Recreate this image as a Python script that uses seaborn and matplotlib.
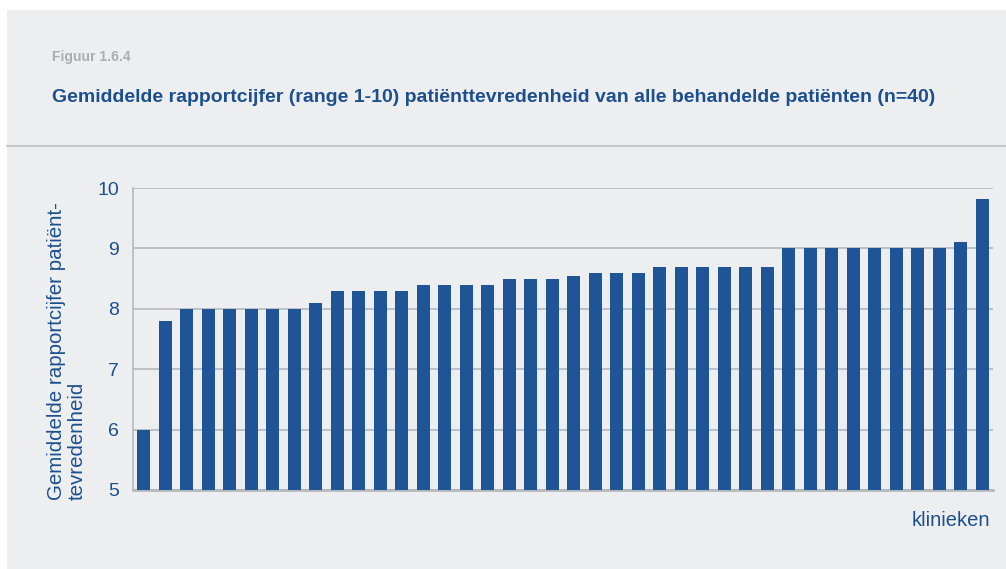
import numpy as np
import pandas as pd
import matplotlib
matplotlib.use("Agg")
import matplotlib.pyplot as plt
import seaborn as sns

# data (sorted average satisfaction per clinic)
scores = [
    6.0, 7.8,
    8.0, 8.0, 8.0, 8.0, 8.0, 8.0,
    8.1,
    8.3, 8.3, 8.3, 8.3,
    8.39, 8.4, 8.4, 8.4,
    8.5, 8.5, 8.5, 8.54,
    8.6, 8.6, 8.6,
    8.7, 8.7, 8.7, 8.7, 8.7, 8.7,
    9.0, 9.0, 9.0, 9.0, 9.0, 9.0, 9.0, 9.0,
    9.1, 9.82,
]
clinics = [f"k{i + 1}" for i in range(len(scores))]
y_ticks = [5, 6, 7, 8, 9, 10]

fig_label = "Figuur 1.6.4"
title = "Gemiddelde rapportcijfer (range 1-10) patiënttevredenheid van alle behandelde patiënten (n=40)"
y_label = "Gemiddelde rapportcijfer patiënt-\ntevredenheid"
x_label = "klinieken"

BG = "#edeef0"
BLUE = "#1f5597"
TEXT_BLUE = "#1d4f8f"
GRID = "#b4b8bd"

sns.set_theme(style="white")
plt.rcParams["font.family"] = ["Liberation Sans", "DejaVu Sans"]

df = pd.DataFrame({"kliniek": clinics, "cijfer": scores})

fig = plt.figure(figsize=(10.06, 5.69), dpi=100)
fig.patch.set_facecolor("white")

# grey panel behind everything
panel = plt.Rectangle((7 / 1006, 0), 1 - 7 / 1006, 1 - 10 / 569,
                      transform=fig.transFigure, facecolor=BG,
                      edgecolor="none", zorder=-10)
fig.patches.append(panel)
fig.add_artist(plt.Line2D([7 / 1006, 1], [1 - 146 / 569] * 2,
                          transform=fig.transFigure, color="#c3c7cb", lw=1.5))

fig.text(52 / 1006, 1 - 57 / 569, fig_label, color="#a9adb2",
         fontsize=10, fontweight="bold", va="center", ha="left")
fig.text(52 / 1006, 1 - 97 / 569, title, color=TEXT_BLUE,
         fontsize=14, fontweight="bold", va="center", ha="left")

ax = fig.add_axes([133 / 1006, 1 - 490 / 569, (993 - 133) / 1006, (490 - 188) / 569])
ax.set_facecolor(BG)

sns.barplot(data=df, x="kliniek", y="cijfer", color=BLUE, width=0.6,
            saturation=1, linewidth=0, ax=ax, zorder=3)

ax.set_ylim(5, 10)
ax.set_xlim(-0.5, len(scores) - 0.5)
ax.set_yticks(y_ticks)
ax.set_yticklabels([str(t) for t in y_ticks])
ax.set_xticks([])
ax.set_xlabel("")
ax.set_ylabel("")
ax.grid(axis="y", color=GRID, lw=1.2, zorder=0)
ax.tick_params(axis="y", length=0, pad=10, labelsize=14, labelcolor=TEXT_BLUE)

for side in ["top", "right"]:
    ax.spines[side].set_visible(False)
ax.spines["left"].set_color(GRID)
ax.spines["left"].set_linewidth(1.2)
ax.spines["bottom"].set_color(GRID)
ax.spines["bottom"].set_linewidth(2)

fig.text(67 / 1006, 1 - 500 / 569, y_label, rotation=90, color=TEXT_BLUE,
         fontsize=14.8, va="bottom", ha="center", multialignment="left",
         linespacing=1.15)
fig.text(990 / 1006, 1 - 521 / 569, x_label, color=TEXT_BLUE,
         fontsize=14.5, va="center", ha="right")

fig.savefig("out.png", dpi=100, facecolor=fig.get_facecolor())
